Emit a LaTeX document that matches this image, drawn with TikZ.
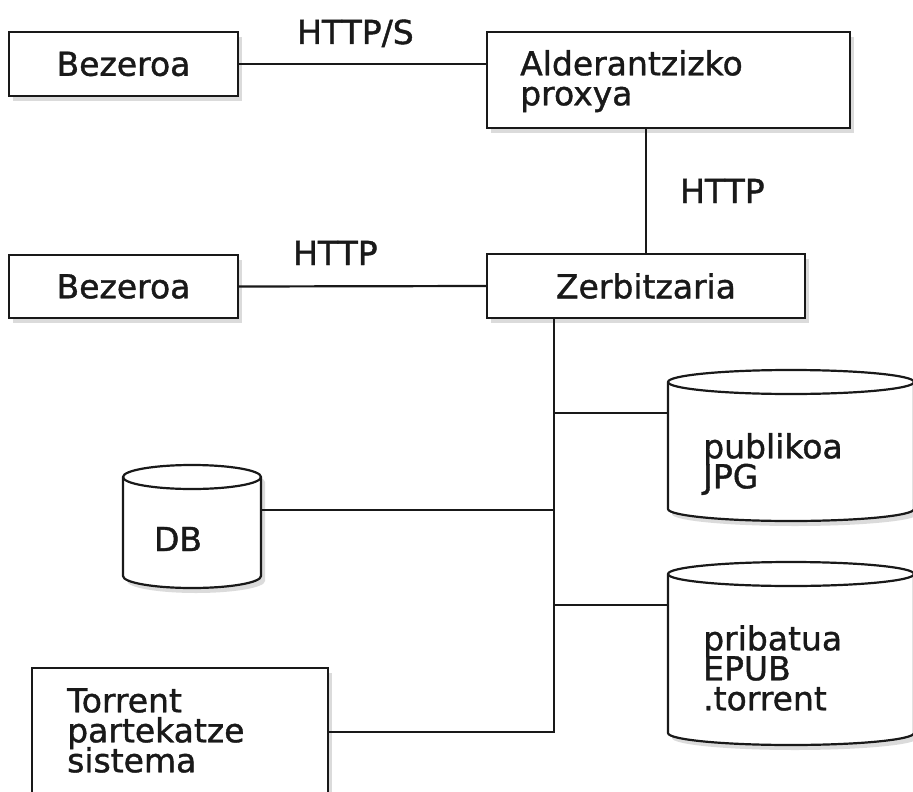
\documentclass[tikz,border=0pt]{standalone}
\usepackage{fontspec}
\setmainfont[FakeBold=1.2]{DejaVu Sans}
\usetikzlibrary{shadows}
\newcommand\mycyl[3]{%
  \draw[cylline, fill=white, drop shadow={shadow xshift=4pt,shadow yshift=-5pt,opacity=.28}]
    (#1.north west) -- (#1.south west)
    arc[start angle=180,end angle=360,x radius=#2,y radius=#3]
    -- (#1.north east)
    arc[start angle=0,end angle=180,x radius=#2,y radius=#3] -- cycle;
  \draw[cylline] (#1.north west)
    arc[start angle=180,end angle=360,x radius=#2,y radius=#3];
}
\begin{document}
\begin{tikzpicture}[x=1pt,y=-1pt,
  lbl/.style={font={\fontsize{33}{30}\selectfont\lineskiplimit=-100pt}, inner sep=0pt, text=black!90},
  box/.style={draw=black!90, line width=2.2pt, fill=white,
    drop shadow={shadow xshift=4pt,shadow yshift=-5pt,opacity=.28}, inner sep=0pt},
  link/.style={draw=black!90, line width=2.2pt},
  cylline/.style={draw=black!90, line width=2.2pt},
  body/.style={inner sep=0pt, outer sep=0pt}]
\useasboundingbox (0,0) rectangle (913,792);
\clip (0,0) rectangle (913,792);
\fill[white] (0,0) rectangle (913,792);

% boxes
\node[box, lbl, minimum width=229pt, minimum height=64pt] (b1) at (123.5,64) {Bezeroa};
\node[box, minimum width=363pt, minimum height=96pt] (px) at (668.5,80) {};
\node[lbl, anchor=north west, align=left] (pxt) at (520,50) {Alderantzizko\\proxya};
\node[box, lbl, minimum width=229pt, minimum height=63pt] (b2) at (123.5,286.5) {Bezeroa};
\node[box, lbl, minimum width=318pt, minimum height=64pt] (srv) at (646,286) {Zerbitzaria};
\node[box, minimum width=296pt, minimum height=128pt] (tor) at (180,732) {};
\node[lbl, anchor=north west, align=left] (tort) at (67,688) {Torrent\\partekatze\\sistema};

% cylinders
\node[body, minimum width=138pt, minimum height=99pt] (db) at (192,526.5) {};
\mycyl{db}{69pt}{12pt}
\node[lbl] (dbt) at (178,539) {DB};

\node[body, minimum width=246pt, minimum height=127pt] (pub) at (791,445.5) {};
\mycyl{pub}{123pt}{12pt}
\node[lbl, anchor=north west, align=left] (pubt) at (703,433) {publikoa\\JPG};

\node[body, minimum width=246pt, minimum height=159pt] (pri) at (791,653.5) {};
\mycyl{pri}{123pt}{12pt}
\node[lbl, anchor=north west, align=left] (prit) at (703,625) {pribatua\\EPUB\\.torrent};

% connectors
\draw[link] (b1.east) -- (b1.east -| px.west);
\node[lbl, anchor=base west] (l1) at (297,44) {HTTP/S};
\draw[link] (b2.east) -- (srv.west);
\node[lbl, anchor=base west] (l2) at (293,265) {HTTP};
\draw[link] (srv.north |- px.south) -- (srv.north);
\node[lbl, anchor=base west] (l3) at (680,203) {HTTP};
\coordinate (tr) at ([xshift=-92pt]srv.south);
\draw[link] (tr) |- (tor.east);
\draw[link] ([yshift=16.5pt]db.east) -- ([yshift=16.5pt]db.east -| tr);
\draw[link] ([yshift=32.5pt]pub.west) -- ([yshift=32.5pt]pub.west -| tr);
\draw[link] ([yshift=48.5pt]pri.west) -- ([yshift=48.5pt]pri.west -| tr);
\end{tikzpicture}
\end{document}
